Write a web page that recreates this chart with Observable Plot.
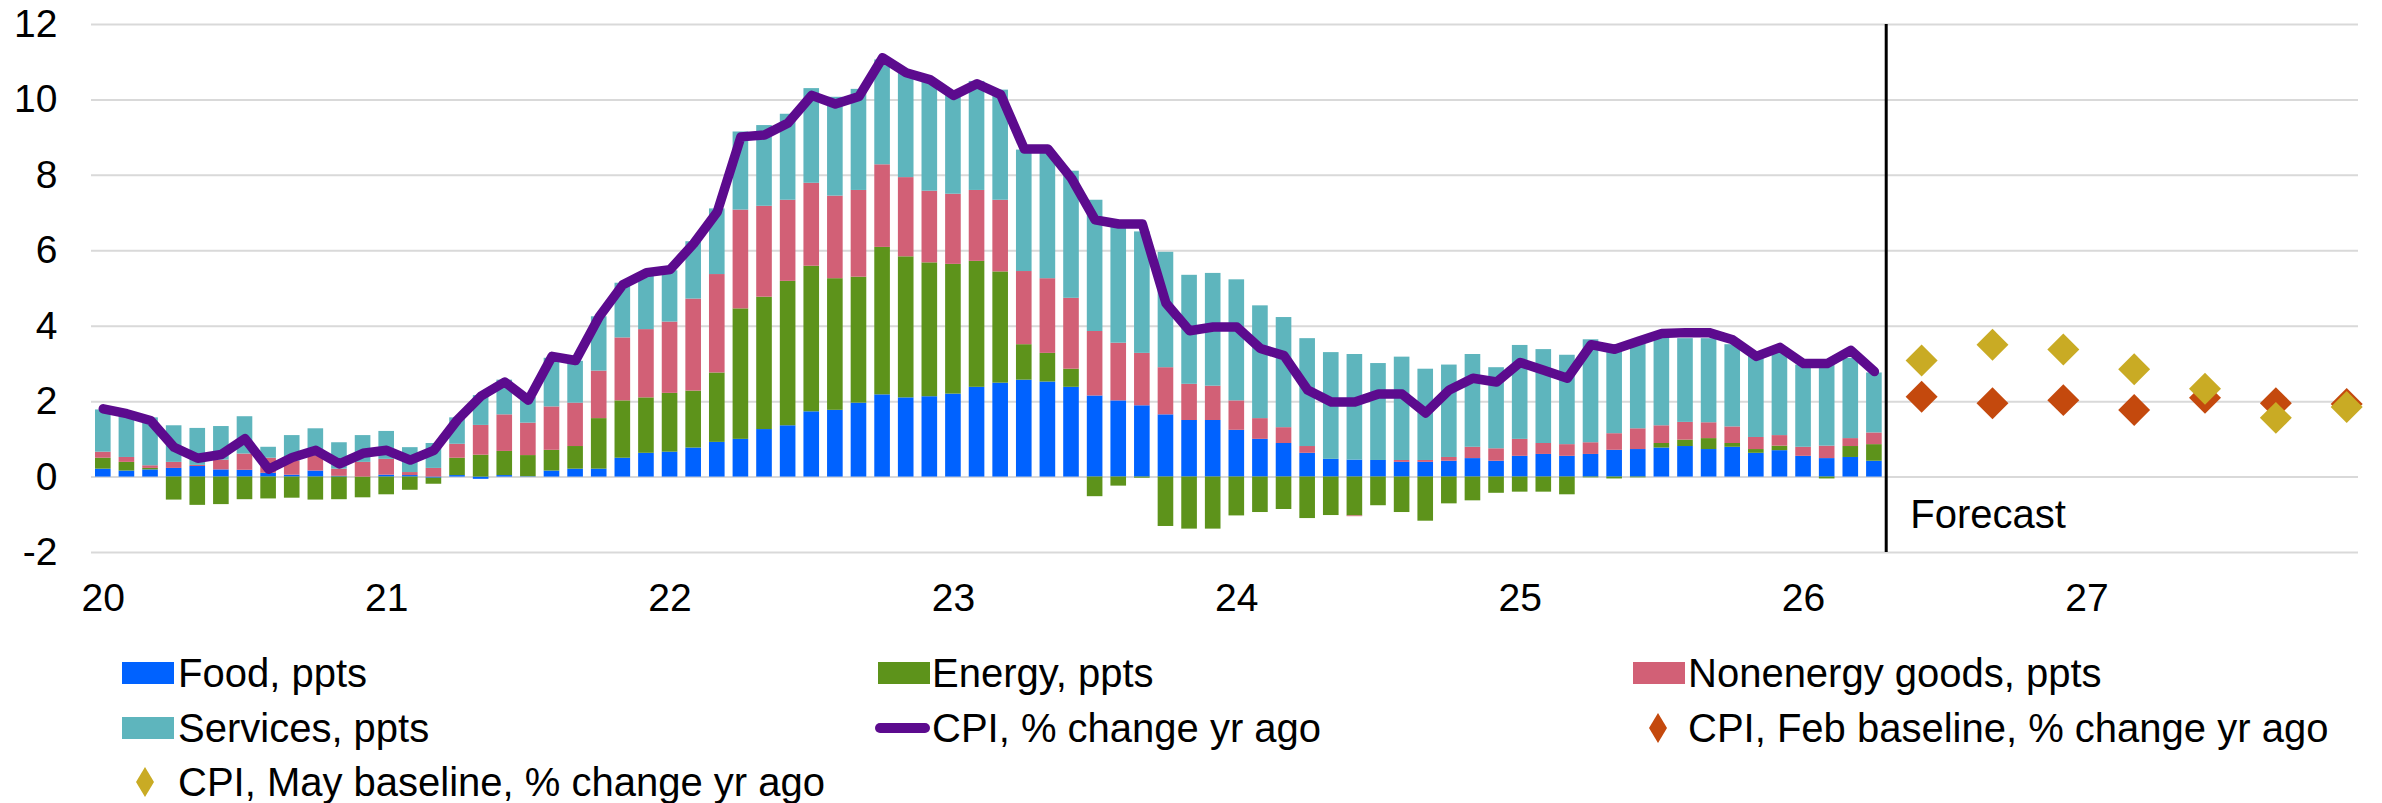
<!DOCTYPE html>
<html>
<head>
<meta charset="utf-8">
<script src="https://cdn.jsdelivr.net/npm/d3@7"></script>
<script src="https://cdn.jsdelivr.net/npm/@observablehq/plot@0.6"></script>
<style>
  html, body { margin: 0; padding: 0; background: #ffffff; }
  #wrap { position: relative; width: 2382px; height: 803px; font-family: "Liberation Sans", Arial, sans-serif; }
  #wrap svg { display: block; }
</style>
</head>
<body>
<div id="wrap"></div>
<script>
// ---------------- DATA ----------------
const firstMonth = "2020-01";           // month of the first bar
const yearLabels = ["20", "21", "22", "23", "24", "25", "26", "27"];

const seriesNames = ["Food, ppts", "Energy, ppts", "Nonenergy goods, ppts", "Services, ppts"];

const food = [
  0.21, 0.16, 0.19, 0.23, 0.28, 0.19, 0.18, 0.10, 0.05, 0.16, 0.02, 0.00,
  0.05, 0.04, -0.03, 0.04, -0.06, 0.04, 0.01, 0.16, 0.21, 0.21, 0.50, 0.63,
  0.66, 0.77, 0.92, 1.00, 1.26, 1.36, 1.73, 1.77, 1.96, 2.18, 2.10, 2.13,
  2.20, 2.38, 2.49, 2.57, 2.52, 2.38, 2.15, 2.02, 1.89, 1.65, 1.50, 1.50,
  1.24, 1.00, 0.89, 0.63, 0.47, 0.45, 0.44, 0.39, 0.39, 0.42, 0.49, 0.42,
  0.55, 0.60, 0.55, 0.60, 0.71, 0.73, 0.77, 0.81, 0.73, 0.79, 0.63, 0.70,
  0.55, 0.49, 0.52, 0.42
];
const energy = [
  0.29, 0.23, 0.04, -0.61, -0.75, -0.73, -0.60, -0.58, -0.56, -0.61, -0.60, -0.55,
  -0.47, -0.35, -0.16, 0.46, 0.58, 0.64, 0.56, 0.55, 0.60, 1.34, 1.52, 1.47,
  1.56, 1.51, 1.84, 3.46, 3.51, 3.83, 3.86, 3.49, 3.34, 3.91, 3.74, 3.55,
  3.44, 3.34, 2.95, 0.94, 0.76, 0.48, -0.52, -0.24, -0.03, -1.31, -1.38, -1.38,
  -1.03, -0.94, -0.86, -1.10, -1.02, -1.03, -0.76, -0.94, -1.17, -0.71, -0.63, -0.43,
  -0.40, -0.40, -0.47, -0.02, -0.05, -0.02, 0.12, 0.17, 0.29, 0.10, 0.10, 0.12,
  0.00, -0.05, 0.29, 0.44
];
const nonenergy = [
  0.16, 0.13, 0.07, 0.16, 0.03, 0.26, 0.43, 0.40, 0.37, 0.40, 0.19, 0.39,
  0.42, 0.08, 0.23, 0.37, 0.79, 0.97, 0.86, 1.15, 1.15, 1.26, 1.67, 1.81,
  1.89, 2.44, 2.61, 2.62, 2.41, 2.15, 2.20, 2.19, 2.30, 2.19, 2.10, 1.90,
  1.86, 1.88, 1.90, 1.94, 1.98, 1.88, 1.71, 1.53, 1.39, 1.25, 0.96, 0.91,
  0.78, 0.55, 0.42, 0.18, 0.00, -0.02, 0.00, 0.05, 0.05, 0.10, 0.30, 0.33,
  0.45, 0.29, 0.31, 0.31, 0.44, 0.55, 0.47, 0.47, 0.42, 0.44, 0.32, 0.28,
  0.24, 0.33, 0.21, 0.31
];
const services = [
  1.12, 1.11, 1.27, 0.97, 0.98, 0.89, 0.99, 0.29, 0.68, 0.72, 0.70, 0.71,
  0.74, 0.66, 0.66, 0.70, 0.79, 0.92, 0.68, 1.29, 1.11, 1.44, 1.45, 1.44,
  1.36, 1.52, 1.74, 2.07, 2.14, 2.28, 2.51, 2.62, 2.68, 2.78, 2.81, 2.96,
  2.62, 2.89, 2.92, 3.22, 3.34, 3.37, 3.48, 3.16, 3.22, 3.06, 2.89, 2.99,
  3.21, 2.99, 2.92, 2.86, 2.83, 2.80, 2.57, 2.74, 2.42, 2.45, 2.46, 2.15,
  2.49, 2.49, 2.37, 2.73, 2.36, 2.25, 2.36, 2.22, 2.23, 2.18, 2.20, 2.20,
  2.18, 2.15, 2.13, 1.59
];
const cpi = [
  1.81, 1.68, 1.50, 0.79, 0.50, 0.60, 1.02, 0.21, 0.52, 0.71, 0.35, 0.63,
  0.71, 0.45, 0.71, 1.52, 2.15, 2.52, 2.04, 3.20, 3.09, 4.25, 5.10, 5.42,
  5.50, 6.19, 7.03, 9.02, 9.07, 9.39, 10.12, 9.89, 10.09, 11.12, 10.72, 10.54,
  10.12, 10.43, 10.14, 8.70, 8.70, 7.92, 6.82, 6.71, 6.71, 4.61, 3.88, 3.98,
  3.98, 3.41, 3.22, 2.31, 1.99, 1.99, 2.20, 2.20, 1.70, 2.31, 2.62, 2.52,
  3.04, 2.83, 2.62, 3.51, 3.39, 3.60, 3.81, 3.83, 3.83, 3.64, 3.20, 3.44,
  3.01, 3.01, 3.36, 2.80
];

const forecastMonths = ["2026-06", "2026-09", "2026-12", "2027-03", "2027-06", "2027-09", "2027-12"];
const febBaseline = [2.13, 1.96, 2.04, 1.78, 2.10, 1.96, 1.94];
const mayBaseline = [3.09, 3.51, 3.38, 2.86, 2.34, 1.57, 1.86];

const forecastLabel = "Forecast";
const cpiName = "CPI, % change yr ago";
const febName = "CPI, Feb baseline, % change yr ago";
const mayName = "CPI, May baseline, % change yr ago";

// ---------------- STYLE ----------------
const barColors = ["#0062ff", "#5d931b", "#d26076", "#5eb5bd"];
const cpiColor = "#5c0b8e";
const febColor = "#c4490d";
const mayColor = "#c9ab24";
const gridColor = "#d9d9d9";
const fontFamily = "'Liberation Sans', Arial, sans-serif";

// ---------------- BUILD TABLES ----------------
const [y0, m0] = firstMonth.split("-").map(Number);
const monthIndex = (s) => { const [y, m] = s.split("-").map(Number); return (y - y0) * 12 + (m - m0); };

const componentValues = [food, energy, nonenergy, services];
const barRows = componentValues.flatMap((vals, k) =>
  vals.map((v, i) => ({i, key: seriesNames[k], v})));
const cpiRows = cpi.map((v, i) => ({i, v}));
const febRows = forecastMonths.map((m, j) => ({i: monthIndex(m), v: febBaseline[j]}));
const mayRows = forecastMonths.map((m, j) => ({i: monthIndex(m), v: mayBaseline[j]}));
const lastActual = cpi.length - 1;
const forecastStart = lastActual + 0.5;
const nMonths = yearLabels.length * 12;
const yearTicks = yearLabels.map((_, k) => k * 12);

// ---------------- CHART ----------------
const chart = Plot.plot({
  width: 2382,
  height: 640,
  marginLeft: 91,
  marginRight: 24,
  marginTop: 24,
  marginBottom: 88,
  style: {fontFamily, fontSize: "39px", color: "#000", background: "transparent", overflow: "visible"},
  x: {type: "linear", domain: [-0.5, nMonths - 0.5]},
  y: {domain: [-2, 12]},
  color: {domain: seriesNames, range: barColors},
  marks: [
    Plot.gridY([-2, 0, 2, 4, 6, 8, 10, 12], {stroke: gridColor, strokeOpacity: 1, strokeWidth: 2}),
    Plot.rect(barRows, Plot.stackY({
      x: "i",
      x1: (d) => d.i - 0.5,
      x2: (d) => d.i + 0.5,
      y: "v",
      fill: "key",
      order: seriesNames,
      insetLeft: 4,
      insetRight: 4
    })),
    Plot.line(cpiRows, {x: "i", y: "v", stroke: cpiColor, strokeWidth: 9.5, strokeLinejoin: "round", strokeLinecap: "round"}),
    Plot.ruleX([forecastStart], {stroke: "#000", strokeWidth: 3}),
    Plot.text([{x: forecastStart, y: -1}], {x: "x", y: "y", text: () => forecastLabel, textAnchor: "start", dx: 24, fontSize: 40, fill: "#000"}),
    Plot.dot(febRows, {x: "i", y: "v", symbol: "diamond2", r: 14.4, fill: febColor, stroke: "none"}),
    Plot.dot(mayRows, {x: "i", y: "v", symbol: "diamond2", r: 14.4, fill: mayColor, stroke: "none"}),
    Plot.axisY({ticks: [-2, 0, 2, 4, 6, 8, 10, 12], tickSize: 0, tickPadding: 34, tickFormat: (d) => String(d), fill: "#000"}),
    Plot.axisX({ticks: yearTicks, tickSize: 0, tickPadding: 31, tickFormat: (d) => yearLabels[d / 12], fill: "#000"})
  ]
});
document.getElementById("wrap").appendChild(chart);

// ---------------- LEGEND ----------------
const legendTop = 640;
const leg = d3.select("#wrap").append("svg")
  .attr("width", 2382).attr("height", 803 - legendTop)
  .style("font-family", fontFamily);

const legendItems = [
  {type: "rect", color: barColors[0], label: seriesNames[0], sx: 122, tx: 178, row: 0},
  {type: "rect", color: barColors[1], label: seriesNames[1], sx: 878, tx: 932, row: 0},
  {type: "rect", color: barColors[2], label: seriesNames[2], sx: 1633, tx: 1688, row: 0},
  {type: "rect", color: barColors[3], label: seriesNames[3], sx: 122, tx: 178, row: 1},
  {type: "line", color: cpiColor, label: cpiName, sx: 875, tx: 932, row: 1},
  {type: "diamond", color: febColor, label: febName, sx: 1658, tx: 1688, row: 1},
  {type: "diamond", color: mayColor, label: mayName, sx: 145, tx: 178, row: 2}
];
const rowBaseline = [687, 742, 796].map((y) => y - legendTop);
for (const it of legendItems) {
  const b = rowBaseline[it.row];
  const mid = b - 14;
  if (it.type === "rect") {
    leg.append("rect").attr("x", it.sx).attr("y", mid - 11).attr("width", 52).attr("height", 22).attr("fill", it.color);
  } else if (it.type === "line") {
    leg.append("line").attr("x1", it.sx + 5).attr("x2", it.sx + 50).attr("y1", mid).attr("y2", mid)
      .attr("stroke", it.color).attr("stroke-width", 10).attr("stroke-linecap", "round");
  } else {
    const cx = it.sx, cy = mid;
    leg.append("path").attr("d", `M${cx},${cy - 15}L${cx + 9},${cy}L${cx},${cy + 15}L${cx - 9},${cy}Z`).attr("fill", it.color);
  }
  leg.append("text")
    .attr("x", it.tx).attr("y", b)
    .attr("font-size", 40)
    .attr("fill", "#000")
    .text(it.label);
}
</script>
</body>
</html>
